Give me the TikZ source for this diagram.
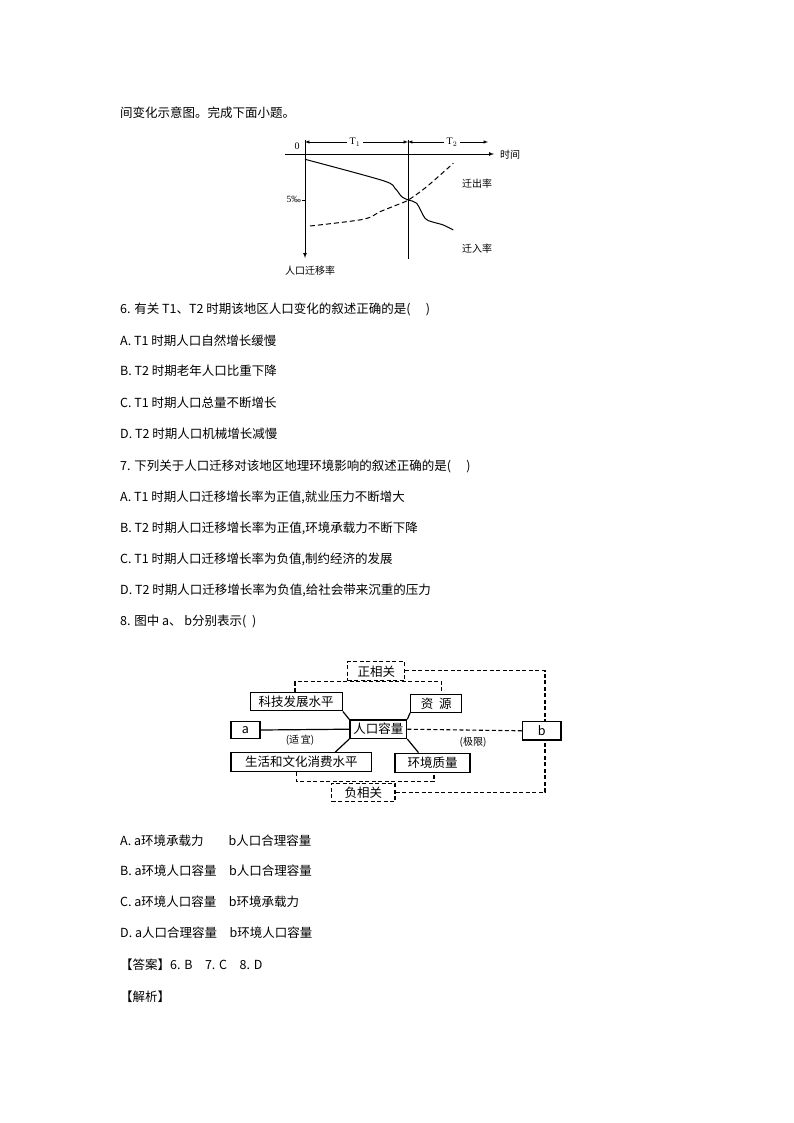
\documentclass[tikz,border=0pt]{standalone}
\usepackage{fontspec}
\setmainfont{Liberation Serif}
\newfontfamily\cjk{Noto Sans CJK SC}
\begin{document}
\begin{tikzpicture}[x=1pt,y=-1pt,
  txt/.style={anchor=west,inner sep=0pt,font=\cjk\fontsize{12.5}{14}\selectfont},
  sm/.style={inner sep=0pt,font=\cjk\fontsize{10}{12}\selectfont},
  bx/.style={draw,line width=1.3pt,inner sep=0pt,font=\cjk\fontsize{12.5}{14}\selectfont},
  dbx/.style={draw,dash pattern=on 4pt off 2.5pt,line width=1.1pt,inner sep=0pt,font=\cjk\fontsize{12.5}{14}\selectfont},
  dl/.style={dash pattern=on 4pt off 2.5pt,line width=1.1pt},
  sl/.style={line width=1.2pt}]
\useasboundingbox[fill=white] (0,0) rectangle (794,1123);
% text
\node[txt] (t0) at (120,113) {间变化示意图。完成下面小题。};
\node[txt] (q6) at (120,309) {6. 有关 T1、T2 时期该地区人口变化的叙述正确的是(\quad\ )};
\node[txt] (q6a) at (120,341) {A. T1 时期人口自然增长缓慢};
\node[txt] (q6b) at (120,371) {B. T2 时期老年人口比重下降};
\node[txt] (q6c) at (120,403) {C. T1 时期人口总量不断增长};
\node[txt] (q6d) at (120,434) {D. T2 时期人口机械增长减慢};
\node[txt] (q7) at (120,466) {7. 下列关于人口迁移对该地区地理环境影响的叙述正确的是(\quad\ )};
\node[txt] (q7a) at (120,497) {A. T1 时期人口迁移增长率为正值,就业压力不断增大};
\node[txt] (q7b) at (120,528) {B. T2 时期人口迁移增长率为正值,环境承载力不断下降};
\node[txt] (q7c) at (120,559) {C. T1 时期人口迁移增长率为负值,制约经济的发展};
\node[txt] (q7d) at (120,590) {D. T2 时期人口迁移增长率为负值,给社会带来沉重的压力};
\node[txt] (q8) at (120,621) {8. 图中 a、 b分别表示( \ )};
\node[txt] (q8a) at (120,841) {A. a环境承载力\qquad b人口合理容量};
\node[txt] (q8b) at (120,871) {B. a环境人口容量\quad b人口合理容量};
\node[txt] (q8c) at (120,902) {C. a环境人口容量\quad b环境承载力};
\node[txt] (q8d) at (120,933) {D. a人口合理容量\quad b环境人口容量};
\node[txt] (ans) at (120,965) {【答案】6. B\quad 7. C\quad 8. D};
\node[txt] (jx) at (120,997) {【解析】};
% chart
\coordinate (xa0) at (285,154); \coordinate (xa1) at (494,154);
\coordinate (ya0) at (305,140); \coordinate (ya1) at (305,258);
\draw[line width=0.7pt,-latex] (xa0) -- (xa1);
\draw[line width=0.7pt,-latex] (ya0) -- (ya1);
\coordinate (v0) at (408,140); \coordinate (v1) at (408,259);
\draw[line width=0.7pt] (v0) -- (v1);
\coordinate (t1l) at (305,142); \coordinate (t1r) at (408,142); \coordinate (t2r) at (488,142);
\draw[line width=0.5pt,latex-latex] (t1l) -- (t1r);
\draw[line width=0.5pt,latex-latex] (t1r) -- (t2r);
\node[sm,fill=white,inner xsep=3pt,font=\fontsize{10}{12}\selectfont] (T1) at (355,142) {T$_1$};
\node[sm,fill=white,inner xsep=3pt,font=\fontsize{10}{12}\selectfont] (T2) at (452,142) {T$_2$};
\node[sm,font=\fontsize{10}{12}\selectfont] (zero) at (297,146) {0};
\node[sm,anchor=west] (sj) at (500,155) {时间};
\coordinate (tk) at (302,200);
\draw[line width=0.5pt] (tk) -- (305,200);
\node[sm,anchor=east,font=\fontsize{9.5}{12}\selectfont] (five) at (301,199) {5‰};
\draw[line width=1pt] plot[smooth,tension=0.5] coordinates {(305,159.3) (383.3,180.7) (395,188.3) (401.7,196.7) (408.3,200) (416.7,203.3) (425,218.3) (431.7,221.7) (443.3,225) (453.3,230)};
\draw[line width=1pt,dash pattern=on 5pt off 3pt] plot[smooth,tension=0.5] coordinates {(310,226) (363.3,219.3) (380,211.7) (396.7,205) (408.3,200) (426.7,186.7) (453.3,163.3)};
\node[sm] (qc) at (477,184) {迁出率};
\node[sm] (qr) at (477,249) {迁入率};
\node[sm] (rk) at (310,271) {人口迁移率};
% diagram
\node[dbx,minimum width=57pt,minimum height=19pt] (zx) at (376.3,671.3) {正相关};
\node[bx,minimum width=92pt,minimum height=18pt] (kj) at (296.2,701.8) {科技发展水平};
\node[bx,minimum width=51pt,minimum height=18pt] (zy) at (436.2,703.3) {资\ \ 源};
\node[bx,minimum width=29pt,minimum height=16.6pt] (a) at (245.5,730) {a};
\node[bx,minimum width=56.7pt,minimum height=18.3pt] (rk2) at (378.3,729.2) {人口容量};
\node[bx,minimum width=38.3pt,minimum height=18.3pt] (b) at (541.8,730.8) {b};
\node[bx,minimum width=140.7pt,minimum height=19pt] (sh) at (301.3,762.2) {生活和文化消费水平};
\node[bx,minimum width=75pt,minimum height=19pt] (hj) at (432.5,762.8) {环境质量};
\node[dbx,minimum width=63.3pt,minimum height=18.4pt] (fx) at (363.3,792.5) {负相关};
\node[sm] (sy) at (300,740) {(适\,宜)};
\node[sm] (jxn) at (473,742) {(极限)};
\coordinate (c1) at (545,670.5); \coordinate (c2) at (295,681.7); \coordinate (c3) at (441.7,681.7);
\coordinate (c4) at (296.7,781.7); \coordinate (c5) at (434,781.7); \coordinate (c6) at (545,792.3);
\draw[dl] (zx.east |- c1) -- (c1) -- (c1 |- b.north);
\draw[dl] (c2 |- kj.north) -- (c2) -- (c3) -- (c3 |- zy.north);
\draw[dl] (c4 |- sh.south) -- (c4) -- (c5) -- (c5 |- hj.south);
\draw[dl] (fx.east |- c6) -- (c6) -- (c6 |- b.south);
\draw[dl] (rk2.east) -- (b.west);
\draw[sl] (a.east) -- (rk2.west);
\draw[sl] (kj.south east) -- (rk2.north west);
\draw[sl] (zy.south west) -- (rk2.north east);
\draw[sl] (rk2.south west) -- ([xshift=34pt]sh.north);
\draw[sl] (rk2.south east) -- ([xshift=-14pt]hj.north);
\end{tikzpicture}
\end{document}
